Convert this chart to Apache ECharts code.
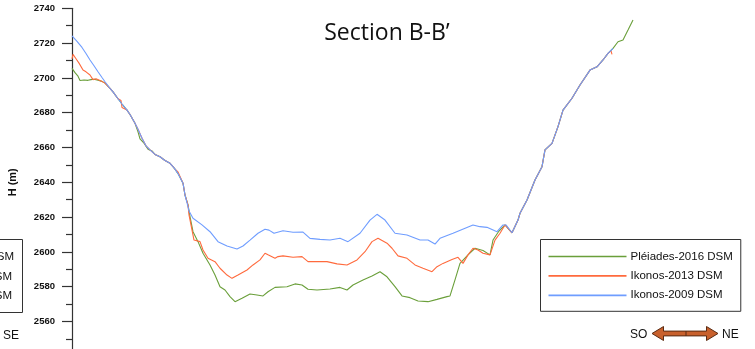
<!DOCTYPE html>
<html>
<head>
<meta charset="utf-8">
<script src="https://cdn.jsdelivr.net/npm/echarts@6/dist/echarts.min.js"></script>
<style>
  html, body { margin: 0; padding: 0; background: #fff; }
  #chart { width: 755px; height: 349px; }
</style>
</head>
<body>
<div id="chart"></div>
<script>
// Elevation profile along section B-B' : [distance along section, height (m)]
const seriesNames = ['Pléiades-2016 DSM', 'Ikonos-2013 DSM', 'Ikonos-2009 DSM'];
const heightTicks = [2540, 2560, 2580, 2600, 2620, 2640, 2660, 2680, 2700, 2720, 2740];

const pleiades2016 = [
  [0,2705.5],[3,2703],[6,2701],[8,2698.5],[10,2699.3],[12,2698.8],[14,2699.5],[16,2698.6],[19,2699],[22,2699.2],
  [26,2698.6],[30,2698],[33,2697],[38,2694],[41,2692],[46,2688],[50,2685],[55,2681.5],[58,2679],[63,2673.9],
  [66,2669],[68,2665],[72,2662.5],[76,2659],[80,2658],[83,2656],[88,2654.7],[93,2652.5],[98,2650.9],[101,2649],
  [103,2647.6],[106,2645],[111,2639.5],[113,2632.7],[116,2627],[118,2620.3],[121,2611.6],[126,2605.9],[131,2599.2],
  [138,2592.5],[143,2586.7],[148,2580],[153,2578.1],[155,2579],[158,2574.3],[163,2571.4],[170,2573.3],[178,2575.8],
  [185,2575.2],[191,2574.7],[196,2577.1],[203,2579.6],[215,2580],[223,2581.6],[230,2581],[236,2578.5],[245,2578.1],
  [258,2578.7],[268,2579.6],[275,2578.1],[281,2581],[291,2583.8],[300,2586.1],[308,2588.6],[315,2585.7],[323,2580],
  [330,2574.7],[338,2573.7],[346,2571.8],[356,2571.4],[365,2572.7],[375,2574.3],[378,2574.7],[383,2583.9],[388,2593.4],
  [396,2598.3],[403,2602.1],[411,2600.8],[418,2598.3],[421,2606.8],[427,2612],[433,2615.5],[440,2611],[446,2618.3],
  [448,2622.2],[455,2629.8],[463,2641.3],[470,2649],[473,2658.6],[480,2662.4],[486,2672],[491,2681.5],[500,2688.3],
  [508,2695.9],[518,2704.5],[525,2706.4],[531,2710.3],[536,2714.1],[541,2717],[546,2720.8],[551,2721.8],[556,2727.5],
  [561,2733.3]
];

const ikonos2013 = [
  [0,2711],[1,2713.5],[2,2714],[4,2711],[7,2708.5],[11,2704.5],[14,2703.5],[18,2701.7],[21,2699],[24,2699.5],
  [28,2698.5],[33,2697],[38,2694],[41,2692],[46,2688],[49,2687],[50,2683],[52,2684],[55,2681.5],[58,2679],
  [63,2673.9],[66,2670.5],[70,2665.3],[74,2661],[78,2658.6],[83,2656],[88,2654.7],[93,2652.5],[98,2650.9],[101,2649],
  [103,2647.6],[106,2646],[111,2639.5],[113,2632.7],[116,2627],[117,2621.3],[122,2606.8],[128,2605.9],[131,2601.1],
  [136,2596.3],[143,2594.4],[148,2590.6],[155,2586.7],[160,2584.8],[166,2586.7],[175,2589.6],[181,2592.5],[188,2595.4],
  [193,2599.2],[196,2598.3],[203,2596.3],[206,2597.3],[211,2597.7],[221,2596.9],[230,2597.3],[236,2594.4],[245,2594.4],
  [255,2594.4],[265,2593.1],[275,2592.5],[285,2595.4],[293,2600.1],[300,2605.9],[306,2607.8],[315,2605],[320,2602.1],
  [326,2597.7],[335,2596.3],[343,2592.5],[351,2590.6],[360,2588.6],[365,2591.5],[371,2593.4],[380,2595.6],[386,2596.9],
  [391,2593.4],[396,2598.3],[401,2602.1],[406,2601.1],[411,2599.2],[418,2598.3],[423,2606.8],[428,2610.7],[433,2615.5],
  [440,2611],[446,2618.3],[448,2622.2],[455,2629.8],[463,2641.3],[470,2649],[473,2658.6],[480,2662.4],[486,2672],
  [491,2681.5],[500,2688.3],[508,2695.9],[518,2704.5],[525,2706.4],[531,2710.3],[536,2714.1],[539,2715.5],[540,2713.5]
];

const ikonos2009 = [
  [0,2724.1],[5,2721],[10,2717.5],[14,2714],[18,2710.3],[22,2707],[26,2703.5],[30,2700.2],[33,2697.8],[38,2694],
  [41,2692],[46,2688],[50,2685],[55,2681.5],[58,2679],[63,2673.9],[66,2670.5],[70,2665.3],[74,2661],[78,2658.6],
  [83,2656],[88,2654.7],[93,2652.5],[98,2650.9],[101,2649],[103,2647.6],[106,2645],[111,2639.5],[113,2632.7],[116,2626],
  [117,2623.5],[121,2619.3],[130,2615.5],[138,2611.6],[146,2605.9],[155,2603.4],[165,2601.7],[171,2603.4],[178,2606.8],
  [186,2610.7],[193,2613],[197,2612.5],[202,2610.7],[211,2612.2],[221,2611.3],[231,2611.4],[238,2607.8],[248,2607.2],
  [258,2606.8],[268,2607.8],[276,2605.9],[278,2605.9],[288,2610.7],[298,2618.3],[305,2621.6],[313,2618.3],[323,2610.7],
  [335,2609.7],[348,2606.8],[356,2606.8],[363,2604.5],[368,2607.8],[381,2610.7],[401,2615.5],[408,2614.5],[415,2614.1],
  [425,2611.6],[431,2615.5],[434,2615.5],[440,2611],[446,2618.3],[448,2622.2],[455,2629.8],[463,2641.3],[470,2649],
  [473,2658.6],[480,2662.4],[486,2672],[491,2681.5],[500,2688.3],[508,2695.9],[518,2704.5],[525,2706.4],[531,2710.3],
  [536,2714.1],[541,2717]
];

const lineColors = ['#6a9f3a', '#ff6a3d', '#6f9dff'];
const axisFont = '"Liberation Sans", Arial, sans-serif';

const chart = echarts.init(document.getElementById('chart'), null, { renderer: 'canvas' });

// Double-headed direction arrow (SO <-> NE)
function arrowShape(x0, x1, cy) {
  const head = 11.5, halfHead = 7, halfShaft = 2.4;
  return [
    [x0, cy], [x0 + head, cy - halfHead], [x0 + head, cy - halfShaft],
    [x1 - head, cy - halfShaft], [x1 - head, cy - halfHead], [x1, cy],
    [x1 - head, cy + halfHead], [x1 - head, cy + halfShaft],
    [x0 + head, cy + halfShaft], [x0 + head, cy + halfHead]
  ];
}

const option = {
  animation: false,
  backgroundColor: '#ffffff',
  title: {
    text: 'Section B-B\u2019',
    left: 382,
    top: 17,
    textAlign: 'center',
    textStyle: { fontFamily: '"Open Sans", Lato, sans-serif', fontSize: 23, fontWeight: 'normal', color: '#111' }
  },
  grid: { left: 72, top: 8.3, width: 683, height: 348, containLabel: false, outerBoundsMode: 'none' },
  xAxis: {
    type: 'value', min: 0, max: 683, show: false
  },
  yAxis: {
    type: 'value', min: heightTicks[0], max: heightTicks[heightTicks.length - 1], interval: 20,
    name: 'H (m)', nameLocation: 'middle', nameRotate: 90, nameGap: 54,
    nameTextStyle: { fontFamily: axisFont, fontSize: 11, fontWeight: 'bold', color: '#111' },
    axisLine: { show: true, lineStyle: { color: '#333', width: 1.2 } },
    axisTick: { show: true, length: 10, lineStyle: { color: '#333', width: 1.2 } },
    minorTick: { show: true, splitNumber: 2, length: 6, lineStyle: { color: '#333', width: 1.2 } },
    splitLine: { show: false },
    axisLabel: {
      margin: 17, fontFamily: axisFont, fontSize: 9.5, fontWeight: 'bold', color: '#111',
      formatter: v => String(v)
    }
  },
  legend: {
    data: seriesNames,
    orient: 'vertical',
    left: 540.5, top: 239.5,
    padding: [11, 8, 10, 8],
    icon: 'path://M0,0 L78,0 L78,1.7 L0,1.7 Z',
    itemWidth: 78, itemHeight: 14, itemGap: 7.4,
    borderColor: '#333', borderWidth: 1, borderRadius: 0,
    backgroundColor: '#fff',
    textStyle: { fontFamily: axisFont, fontSize: 11.5, color: '#111', padding: [0, 0, 0, -1] }
  },
  graphic: [
    // Neighbouring panel's legend box, cut at the left edge
    { type: 'rect', shape: { x: -179.5, y: 239.5, width: 202, height: 73 },
      style: { fill: '#fff', stroke: '#333', lineWidth: 1 } },
    { type: 'text', style: { text: 'Pléiades-2016 DSM', x: 14, y: 256.5, align: 'right', verticalAlign: 'middle',
      font: '11.5px ' + axisFont, fill: '#111' } },
    { type: 'text', style: { text: 'Ikonos-2013 DSM', x: 12, y: 276.5, align: 'right', verticalAlign: 'middle',
      font: '11.5px ' + axisFont, fill: '#111' } },
    { type: 'text', style: { text: 'Ikonos-2009 DSM', x: 12, y: 296, align: 'right', verticalAlign: 'middle',
      font: '11.5px ' + axisFont, fill: '#111' } },
    { type: 'text', style: { text: 'SE', x: 3, y: 335.5, align: 'left', verticalAlign: 'middle',
      font: '12px ' + axisFont, fill: '#111' } },
    // Orientation arrow
    { type: 'text', style: { text: 'SO', x: 630, y: 335, align: 'left', verticalAlign: 'middle',
      font: '12px ' + axisFont, fill: '#111' } },
    { type: 'polygon', shape: { points: arrowShape(652, 718, 333.5) },
      style: { fill: '#c8602c', stroke: '#5a2b12', lineWidth: 1 } },
    { type: 'line', shape: { x1: 686, y1: 331, x2: 686, y2: 336 },
      style: { stroke: '#5a2b12', lineWidth: 1 } },
    { type: 'text', style: { text: 'NE', x: 722, y: 335, align: 'left', verticalAlign: 'middle',
      font: '12px ' + axisFont, fill: '#111' } }
  ],
  series: [
    { name: seriesNames[0], type: 'line', data: pleiades2016, symbol: 'none', smooth: false,
      lineStyle: { color: lineColors[0], width: 1.1 }, itemStyle: { color: lineColors[0] } },
    { name: seriesNames[1], type: 'line', data: ikonos2013, symbol: 'none', smooth: false,
      lineStyle: { color: lineColors[1], width: 1.1 }, itemStyle: { color: lineColors[1] } },
    { name: seriesNames[2], type: 'line', data: ikonos2009, symbol: 'none', smooth: false,
      lineStyle: { color: lineColors[2], width: 1.1 }, itemStyle: { color: lineColors[2] } }
  ]
};

chart.setOption(option);
</script>
</body>
</html>
